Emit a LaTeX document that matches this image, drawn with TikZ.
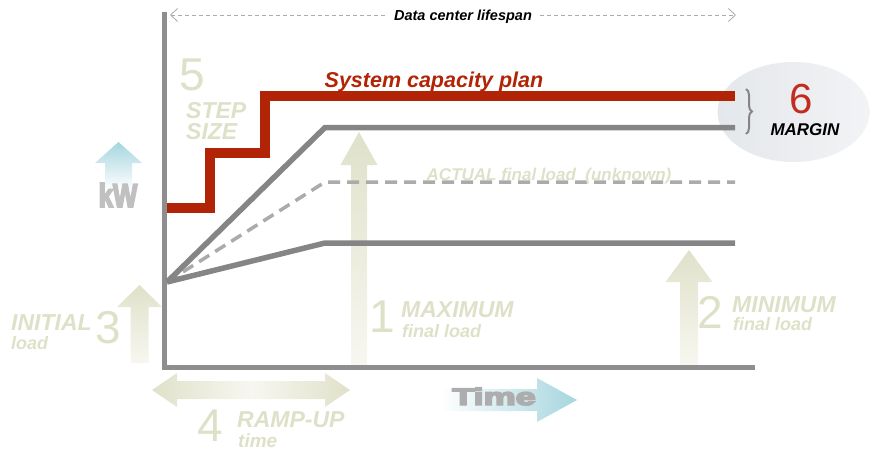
\documentclass[tikz,border=0pt]{standalone}
\usepackage{fontspec}
\setmainfont{Liberation Sans}
\newfontfamily\heavyfont{Liberation Sans}[UprightFont={* Bold},UprightFeatures={FakeBold=6},BoldFeatures={FakeBold=6}]
\usetikzlibrary{arrows.meta,decorations.pathreplacing}
\definecolor{capred}{HTML}{B22406}
\definecolor{sixred}{HTML}{C42B1F}
\definecolor{linegray}{HTML}{858585}
\definecolor{axisgray}{HTML}{8E8E8E}
\definecolor{dashgray}{HTML}{ABABAB}
\definecolor{beige}{HTML}{DFE0C8}
\definecolor{beigedark}{HTML}{E0E1CA}
\definecolor{beigelight}{HTML}{F7F7F0}
\definecolor{skyblue}{HTML}{A6D6DF}
\definecolor{kwgray}{HTML}{C0C0C0}
\definecolor{timegray}{HTML}{ADADAD}
\definecolor{ellleft}{HTML}{E4E7EB}
\definecolor{ellright}{HTML}{F2F3F5}
\begin{document}
\begin{tikzpicture}[x=1pt,y=-1pt,
  bignum/.style={text=beige,font={\fontsize{46}{46}\selectfont},inner sep=0pt,anchor=base},
  bigword/.style={text=beige,font={\fontsize{23}{23}\selectfont\bfseries\itshape},inner sep=0pt,anchor=base west},
  smallword/.style={text=beige,font={\fontsize{18}{18}\selectfont\bfseries\itshape},inner sep=0pt,anchor=base west},
  loadline/.style={line width=5.5pt,draw=linegray,line join=miter},
  upshade/.style={top color=beigedark,bottom color=beigelight,draw=none},
  axisline/.style={line width=5pt,draw=axisgray,line join=miter},
]
\useasboundingbox (0,0) rectangle (871,450);

% ellipse for margin
\shade[left color=ellleft,right color=ellright] (793.5,112) ellipse [x radius=76pt,y radius=50pt];

% beige arrows
\shade[upshade] (130.5,363) -- (130.5,307) -- (117,307) -- (139.5,285) -- (162,307) -- (148.5,307) -- (148.5,363) -- cycle;
\shade[upshade] (351,365) -- (351,165) -- (340.5,165) -- (359,132) -- (377.5,165) -- (367,165) -- (367,365) -- cycle;
\shade[upshade] (680,365) -- (680,282) -- (665.5,282) -- (689,250) -- (712.5,282) -- (698,282) -- (698,365) -- cycle;
\shade[left color=beigedark,right color=beigedark,middle color=beigelight]
  (152,390) -- (177,373) -- (177,381) -- (325,381) -- (325,373) -- (350,390) -- (325,407) -- (325,399) -- (177,399) -- (177,407) -- cycle;

% blue arrows
\shade[top color=skyblue,bottom color=white] (105,190) -- (105,163) -- (95,163) -- (118.5,142) -- (142,163) -- (132,163) -- (132,190) -- cycle;
\shade[left color=white,right color=skyblue] (440,389) -- (537,389) -- (537,378) -- (577,400) -- (537,422) -- (537,411) -- (440,411) -- cycle;

% axes
\coordinate (ytop) at (164.5,12);
\coordinate (orig) at (164.5,367);
\coordinate (xend) at (755,367);
\draw[axisline] (ytop) -- (orig) -- (xend);

% load lines
\coordinate (start) at (167,282);
\coordinate (maxk) at (325,127.5);
\coordinate (maxe) at (735,127.5);
\coordinate (mink) at (325,243);
\coordinate (mine) at (735,243);
\coordinate (actk) at (325,182);
\coordinate (acte) at (735,182);
\draw[dashgray,line width=3.5pt,dash pattern=on 12pt off 7pt] (start) -- (actk) -- (acte);
\draw[loadline] (start) -- (maxk) -- (maxe);
\draw[loadline] (start) -- (mink) -- (mine);

% capacity plan
\coordinate (cap0) at (167,208);
\coordinate (cap1) at (210,208);
\coordinate (cap2) at (210,153);
\coordinate (cap3) at (265,153);
\coordinate (cap4) at (265,96);
\coordinate (cap5) at (735,96);
\draw[capred,line width=10pt,line join=miter] (cap0) -- (cap1) -- (cap2) -- (cap3) -- (cap4) -- (cap5);

% brace
\coordinate (brtop) at (746,89);
\coordinate (brbot) at (746,134);
\draw[linegray,line width=2pt,decorate,decoration={brace,amplitude=6pt}] (brtop) -- (brbot);

% lifespan arrow
\node[font={\fontsize{14.5}{14.5}\selectfont\bfseries\itshape},inner sep=0pt,anchor=base] (life) at (463,20) {Data center lifespan};
\coordinate (lifeL) at (170,15);
\coordinate (lifeR) at (736,15);
\draw[dashgray,line width=0.8pt,dash pattern=on 4pt off 3pt,{Straight Barb[length=7pt,width=13pt]}-] (lifeL) -- ([xshift=-8pt]life.west |- lifeL);
\draw[dashgray,line width=0.8pt,dash pattern=on 4pt off 3pt,-{Straight Barb[length=7pt,width=13pt]}] ([xshift=8pt]life.east |- lifeR) -- (lifeR);

% texts
\node[text=capred,font={\fontsize{21.5}{21.5}\selectfont\bfseries\itshape},inner sep=0pt,anchor=base] (captxt) at (434,87) {System capacity plan};
\node[text=beige,font={\fontsize{17}{17}\selectfont\bfseries\itshape},inner sep=0pt,anchor=base] (acttxt) at (549,180) {ACTUAL final load\ \ (unknown)};

\node[bignum] (n5) at (192,90) {5};
\node[bigword] (step) at (186,118) {STEP};
\node[bigword] (size) at (186,139) {SIZE};

\node[text=kwgray,font={\fontsize{33}{33}\selectfont\heavyfont},inner sep=0pt,anchor=base] (kw) at (118,207) {\scalebox{0.78}[1]{kW}};

\node[bigword] (initial) at (11,330) {INITIAL};
\node[smallword] (iload) at (11,349) {load};
\node[bignum] (n3) at (108.5,343) {3};

\node[bignum] (n1) at (382,332) {1};
\node[bigword] (maxw) at (401,317) {MAXIMUM};
\node[smallword] (maxf) at (402,337) {final load};

\node[bignum] (n2) at (710,328) {2};
\node[bigword] (minw) at (732,312) {MINIMUM};
\node[smallword] (minf) at (733,330) {final load};

\node[bignum] (n4) at (210,441) {4};
\node[bigword] (ramp) at (237,427) {RAMP-UP};
\node[text=beige,font={\fontsize{19}{19}\selectfont\bfseries\itshape},inner sep=0pt,anchor=base west] (rtime) at (238,447) {time};

\node[text=timegray,font={\fontsize{24}{24}\selectfont\heavyfont},inner sep=0pt,anchor=base] (time) at (494,405) {\scalebox{1.5}[1]{Time}};

\node[text=sixred,font={\fontsize{42}{42}\selectfont},inner sep=0pt,anchor=base] (n6) at (801,113) {6};
\node[font={\fontsize{17}{17}\selectfont\bfseries\itshape},inner sep=0pt,anchor=base] (margin) at (805,135) {MARGIN};
\end{tikzpicture}
\end{document}
